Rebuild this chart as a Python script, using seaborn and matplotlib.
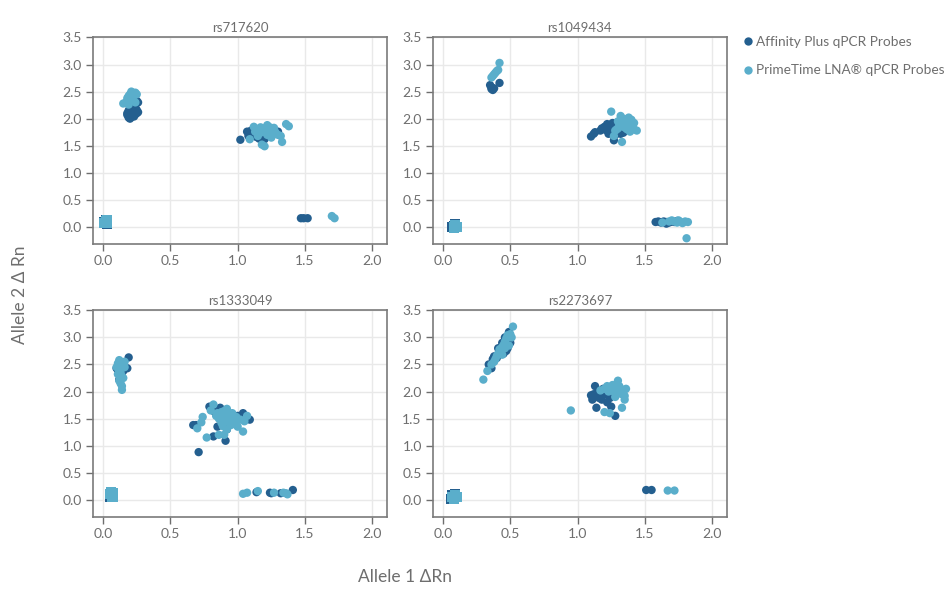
import matplotlib.pyplot as plt
import pandas as pd
import seaborn as sns
import numpy as np

snps = ["rs717620", "rs1049434", "rs1333049", "rs2273697"]
probes = ["Affinity Plus qPCR Probes", "PrimeTime LNA® qPCR Probes"]
colors = ["#245f8f", "#5aaecb"]

### rs717620
rs717620_aff_x = [0.19, 0.20, 0.21, 0.22, 0.23, 0.24, 0.25, 0.18, 0.19, 0.21, 0.23, 0.25, 0.20, 0.22, 0.24, 0.26, 0.25, 0.18, 0.26,
                  1.02, 1.07, 1.08, 1.10, 1.12, 1.14, 1.16, 1.18, 1.20, 1.15, 1.22, 1.30, 1.25, 1.10,
                  1.47, 1.49, 1.52]
rs717620_aff_y = [2.02, 2.00, 2.03, 2.05, 2.04, 2.08, 2.10, 2.10, 2.15, 2.12, 2.14, 2.16, 2.20, 2.22, 2.20, 2.30, 2.33, 2.07, 2.12,
                  1.61, 1.76, 1.68, 1.72, 1.70, 1.66, 1.63, 1.65, 1.62, 1.74, 1.76, 1.76, 1.72, 1.78,
                  0.16, 0.16, 0.16]
rs717620_pt_x = [0.15, 0.17, 0.18, 0.19, 0.20, 0.21, 0.22, 0.23, 0.24, 0.25, 0.18, 0.20, 0.22, 0.24, 0.21, 0.19,
                 1.09, 1.12, 1.14, 1.16, 1.18, 1.20, 1.22, 1.24, 1.26, 1.28, 1.30, 1.32, 1.33, 1.18, 1.20, 1.22, 1.36, 1.38, 1.15, 1.25,
                 1.13, 1.17, 1.21, 1.23, 1.27,
                 1.70, 1.72]
rs717620_pt_y = [2.28, 2.30, 2.38, 2.42, 2.45, 2.50, 2.47, 2.44, 2.48, 2.45, 2.33, 2.35, 2.38, 2.30, 2.40, 2.26,
                 1.62, 1.85, 1.80, 1.78, 1.75, 1.82, 1.88, 1.84, 1.80, 1.75, 1.70, 1.68, 1.57, 1.52, 1.49, 1.70, 1.90, 1.86, 1.68, 1.65,
                 1.76, 1.84, 1.79, 1.74, 1.83,
                 0.20, 0.16]
rs717620_ntc_aff_x = [0.01, 0.02, 0.03]
rs717620_ntc_aff_y = [0.08, 0.12, 0.06]
rs717620_ntc_pt_x = [0.01, 0.02, 0.03, 0.03]
rs717620_ntc_pt_y = [0.07, 0.10, 0.13, 0.07]

### rs1049434
rs1049434_aff_x = [0.35, 0.36, 0.37, 0.36, 0.38, 0.42,
                   1.10, 1.12, 1.13, 1.17, 1.18, 1.20, 1.22, 1.24, 1.25, 1.27, 1.28, 1.27, 1.30, 1.32, 1.34, 1.30, 1.23, 1.26,
                   1.21, 1.26, 1.29, 1.33,
                   1.58, 1.60, 1.62, 1.64, 1.66, 1.68, 1.70, 1.72, 1.74, 1.66]
rs1049434_aff_y = [2.62, 2.58, 2.53, 2.55, 2.56, 2.66,
                   1.67, 1.72, 1.75, 1.78, 1.82, 1.85, 1.90, 1.86, 1.80, 1.75, 1.70, 1.60, 1.78, 1.72, 1.74, 1.85, 1.72, 1.92,
                   1.79, 1.84, 1.73, 1.80,
                   0.09, 0.10, 0.08, 0.10, 0.09, 0.08, 0.10, 0.09, 0.11, 0.06]
rs1049434_pt_x = [0.36, 0.37, 0.38, 0.39, 0.40, 0.41, 0.42,
                  1.25, 1.27, 1.28, 1.30, 1.30, 1.32, 1.34, 1.36, 1.38, 1.40, 1.42, 1.44, 1.36, 1.38, 1.40, 1.33, 1.35, 1.42, 1.29,
                  1.31, 1.34, 1.37, 1.39, 1.41, 1.33, 1.37,
                  1.63, 1.70, 1.72, 1.74, 1.76, 1.78, 1.80, 1.82, 1.75, 1.68, 1.81]
rs1049434_pt_y = [2.76, 2.79, 2.82, 2.85, 2.88, 2.90, 3.03,
                  2.13, 1.68, 1.78, 1.82, 1.95, 2.05, 2.00, 1.95, 1.90, 1.85, 1.80, 1.78, 1.82, 2.02, 1.98, 1.57, 1.88, 1.92, 1.80,
                  1.90, 1.85, 1.80, 1.76, 1.88, 1.95, 1.98,
                  0.08, 0.12, 0.10, 0.08, 0.10, 0.07, 0.10, 0.09, 0.12, 0.10, -0.21]
rs1049434_ntc_aff_x = [0.08, 0.09, 0.07]
rs1049434_ntc_aff_y = [0.02, 0.05, 0.00]
rs1049434_ntc_pt_x = [0.08, 0.09, 0.10, 0.08]
rs1049434_ntc_pt_y = [0.00, 0.03, 0.00, -0.02]

### rs1333049
rs1333049_aff_x = [0.10, 0.11, 0.12, 0.13, 0.14, 0.15, 0.16, 0.18, 0.19, 0.12, 0.14,
                   0.67, 0.69, 0.71, 0.82, 0.91, 0.79, 0.83, 0.86, 0.88, 0.90, 0.93, 0.96, 1.04, 1.09, 0.85, 0.92, 1.00, 0.87,
                   1.14, 1.24, 1.25, 1.32, 1.41]
rs1333049_aff_y = [2.43, 2.40, 2.22, 2.30, 2.46, 2.38, 2.42, 2.43, 2.63, 2.50, 2.35,
                   1.38, 1.38, 0.88, 1.17, 1.09, 1.72, 1.62, 1.55, 1.48, 1.40, 1.45, 1.50, 1.60, 1.48, 1.35, 1.30, 1.55, 1.70,
                   0.14, 0.13, 0.12, 0.12, 0.18]
rs1333049_pt_x = [0.10, 0.11, 0.12, 0.13, 0.14, 0.15, 0.16, 0.12, 0.13, 0.14, 0.12, 0.13, 0.14, 0.14, 0.15, 0.16, 0.11,
                  0.70, 0.73, 0.74, 0.77, 0.80, 0.82, 0.84, 0.86, 0.88, 0.90, 0.92, 0.94, 0.96, 0.98, 1.00, 1.02, 1.04, 1.07,
                  0.90, 0.86, 0.92, 0.95, 0.88, 1.05,
                  0.87, 0.89, 0.91, 0.93, 0.95, 0.97, 0.85, 0.90, 0.94, 0.99, 0.89, 0.92,
                  1.04, 1.07, 1.15, 1.27, 1.34, 1.36, 1.37]
rs1333049_pt_y = [2.45, 2.52, 2.58, 2.55, 2.48, 2.52, 2.45, 2.40, 2.35, 2.28, 2.20, 2.15, 2.10, 2.03, 2.25, 2.55, 2.32,
                  1.32, 1.43, 1.53, 1.15, 1.65, 1.76, 1.55, 1.50, 1.62, 1.58, 1.45, 1.52, 1.60, 1.42, 1.35, 1.48, 1.26, 1.55,
                  1.20, 1.20, 1.68, 1.38, 1.42, 1.45,
                  1.56, 1.52, 1.49, 1.55, 1.46, 1.50, 1.60, 1.64, 1.41, 1.53, 1.36, 1.30,
                  0.11, 0.13, 0.16, 0.13, 0.13, 0.12, 0.10]
rs1333049_ntc_aff_x = [0.05, 0.06, 0.07]
rs1333049_ntc_aff_y = [0.05, 0.12, 0.08]
rs1333049_ntc_pt_x = [0.05, 0.06, 0.07, 0.07]
rs1333049_ntc_pt_y = [0.10, 0.14, 0.06, 0.12]

### rs2273697
rs2273697_aff_x = [0.34, 0.36, 0.37, 0.38, 0.40, 0.42, 0.44, 0.45, 0.47, 0.48, 0.50, 0.49, 0.46, 0.41,
                   1.10, 1.11, 1.13, 1.14, 1.16, 1.18, 1.20, 1.22, 1.24, 1.25, 1.28, 1.15, 1.12, 1.19,
                   1.51, 1.55]
rs2273697_aff_y = [2.50, 2.43, 2.60, 2.65, 2.62, 2.72, 2.90, 2.70, 2.75, 2.80, 2.90, 3.10, 3.00, 2.80,
                   1.93, 1.85, 2.10, 1.70, 1.88, 1.85, 1.95, 1.80, 1.88, 1.72, 1.55, 2.00, 1.95, 2.05,
                   0.18, 0.18]
rs2273697_pt_x = [0.30, 0.33, 0.36, 0.38, 0.39, 0.40, 0.41, 0.42, 0.43, 0.44, 0.45, 0.46, 0.47, 0.48, 0.50, 0.52, 0.51, 0.49, 0.46, 0.44,
                  0.95, 1.20, 1.24, 1.17, 1.20, 1.22, 1.25, 1.27, 1.29, 1.30, 1.31, 1.32, 1.34, 1.35, 1.36, 1.33, 1.35, 1.28, 1.26,
                  1.23, 1.30, 1.33, 1.28,
                  1.67, 1.72]
rs2273697_pt_y = [2.22, 2.38, 2.50, 2.55, 2.60, 2.66, 2.70, 2.78, 2.75, 2.82, 2.86, 2.92, 2.98, 3.04, 3.06, 3.20, 3.00, 2.85, 2.80, 2.68,
                  1.65, 1.62, 1.60, 2.02, 2.05, 2.10, 2.08, 2.00, 1.95, 2.20, 2.10, 2.05, 2.00, 1.92, 2.05, 1.70, 1.85, 1.90, 2.12,
                  2.00, 2.02, 1.95, 2.06,
                  0.17, 0.17]
rs2273697_ntc_aff_x = [0.06, 0.07, 0.09]
rs2273697_ntc_aff_y = [0.02, 0.08, 0.10]
rs2273697_ntc_pt_x = [0.07, 0.08, 0.09, 0.10]
rs2273697_ntc_pt_y = [0.05, 0.02, 0.08, 0.05]

x_ticks = [0.0, 0.5, 1.0, 1.5, 2.0]
y_ticks = [0.0, 0.5, 1.0, 1.5, 2.0, 2.5, 3.0, 3.5]

g = globals()
rows = []
ntc_rows = []
for snp in snps:
    for probe, key in zip(probes, ["aff", "pt"]):
        for x, y in zip(g[f"{snp}_{key}_x"], g[f"{snp}_{key}_y"]):
            rows.append((snp, probe, x, y))
        for x, y in zip(g[f"{snp}_ntc_{key}_x"], g[f"{snp}_ntc_{key}_y"]):
            ntc_rows.append((snp, probe, x, y))
df = pd.DataFrame(rows, columns=["snp", "probe", "a1", "a2"])
ntc = pd.DataFrame(ntc_rows, columns=["snp", "probe", "a1", "a2"])

sns.set_style("whitegrid")
plt.rcParams["font.family"] = ["Lato", "DejaVu Sans"]
txt = "#6e6e6e"

fig, axes = plt.subplots(2, 2, figsize=(9.49, 5.95), dpi=100)
fig.subplots_adjust(left=0.098, right=0.766, top=0.937, bottom=0.131, wspace=0.156, hspace=0.32)
pal = dict(zip(probes, colors))

for ax, snp in zip(axes.flat, snps):
    sns.scatterplot(data=df[df.snp == snp], x="a1", y="a2", hue="probe", hue_order=probes,
                    palette=pal, s=36, linewidth=0, alpha=1, ax=ax, legend=False)
    sns.scatterplot(data=ntc[ntc.snp == snp], x="a1", y="a2", hue="probe", hue_order=probes,
                    palette=pal, s=55, marker="s", linewidth=0, ax=ax, legend=False)
    ax.set_xlim(-0.075, 2.11)
    ax.set_ylim(-0.32, 3.5)
    ax.set_xticks(x_ticks)
    ax.set_yticks(y_ticks)
    ax.set_xticklabels([f"{t:.1f}" for t in x_ticks])
    ax.set_yticklabels([f"{t:.1f}" for t in y_ticks])
    ax.set_xlabel("")
    ax.set_ylabel("")
    ax.set_title(snp, fontsize=9.5, color=txt, pad=4)
    ax.grid(True, color="#e9e9e9", linewidth=1)
    ax.tick_params(axis="both", labelsize=10, colors=txt, length=5, width=1, direction="out",
                   bottom=True, left=True, pad=3)
    for sp in ax.spines.values():
        sp.set_color("#7a7a7a")
        sp.set_linewidth(1.2)

handles = [plt.Line2D([], [], marker="o", linestyle="", markersize=6, color=c, markeredgewidth=0) for c in colors]
fig.legend(handles, probes, loc="upper left", bbox_to_anchor=(0.768, 0.96), frameon=False,
           fontsize=9.8, labelcolor=txt, handletextpad=0.1, labelspacing=1.2, handlelength=1)

fig.text(0.021, 0.505, "Allele 2 Δ Rn", rotation=90, ha="center", va="center", fontsize=12.5, color=txt)
fig.text(0.427, 0.016, "Allele 1 ΔRn", ha="center", va="bottom", fontsize=12.5, color=txt)

plt.savefig("out.png", dpi=100)
